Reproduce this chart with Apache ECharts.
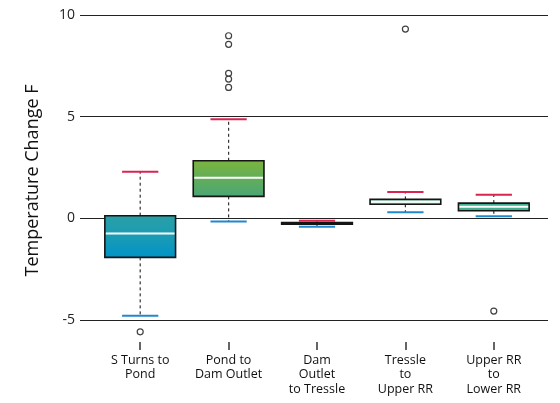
<!DOCTYPE html>
<html>
<head>
<meta charset="utf-8">
<script src="https://cdn.jsdelivr.net/npm/echarts@6/dist/echarts.min.js"></script>
<style>
  html, body { margin: 0; padding: 0; background: #fff; }
  #chart { width: 560px; height: 403px; }
</style>
</head>
<body>
<div id="chart"></div>
<script>
// Reach segments along the creek
const categories = [
  'S Turns to\nPond',
  'Pond to\nDam Outlet',
  'Dam\nOutlet\nto Tressle',
  'Tressle\nto\nUpper RR',
  'Upper RR\nto\nLower RR'
];

// Five-number summaries of temperature change (°F) per segment
const whiskerLow  = [-4.79, -0.15, -0.41, 0.30, 0.10];
const quartile1   = [-1.92,  1.08, -0.29, 0.69, 0.37];
const medians     = [-0.74,  2.00, -0.25, 0.82, 0.57];
const quartile3   = [ 0.13,  2.83, -0.21, 0.93, 0.75];
const whiskerHigh = [ 2.29,  4.87, -0.12, 1.29, 1.16];

// Outlying observations: [segment index, value]
const outliers = [
  [0, -5.58],
  [1, 8.98], [1, 8.56], [1, 7.13], [1, 6.85], [1, 6.44],
  [3, 9.31],
  [4, -4.56]
];

// Value axis ticks
const yTicks = [-5, 0, 5, 10];

// Box fills (top colour, middle colour, bottom colour)
const boxFills = [
  ['#2aa0a6', '#1a9bb4', '#0093c8'],
  ['#7bb43c', '#62ad5a', '#4aa676'],
  ['#111111', '#111111', '#111111'],
  ['#62c59c', '#c2ecd7', '#62c59c'],
  ['#3caa8b', '#44b292', '#3caa8b']
];

const boxData = categories.map((c, i) =>
  [i, whiskerLow[i], quartile1[i], medians[i], quartile3[i], whiskerHigh[i]]);

function renderBox(params, api) {
  const i = api.value(0);
  const pLow = api.coord([i, api.value(1)]);
  const pQ1 = api.coord([i, api.value(2)]);
  const pMed = api.coord([i, api.value(3)]);
  const pQ3 = api.coord([i, api.value(4)]);
  const pHigh = api.coord([i, api.value(5)]);
  const band = api.size([1, 0])[0];
  const bw = band * 0.8;
  const cw = band * 0.41;
  const x = pMed[0];
  const fill = boxFills[i];
  const children = [];
  const dash = { stroke: '#333', lineWidth: 1.2, lineDash: [3, 3] };
  children.push({ type: 'line', shape: { x1: x, y1: pQ3[1], x2: x, y2: pHigh[1] }, style: dash });
  children.push({ type: 'line', shape: { x1: x, y1: pQ1[1], x2: x, y2: pLow[1] }, style: dash });
  children.push({
    type: 'rect',
    shape: { x: x - bw / 2, y: pQ3[1], width: bw, height: Math.max(pQ1[1] - pQ3[1], 0.5) },
    style: {
      fill: new echarts.graphic.LinearGradient(0, 0, 0, 1, [
        { offset: 0, color: fill[0] },
        { offset: 0.5, color: fill[1] },
        { offset: 1, color: fill[2] }
      ]),
      stroke: '#151515',
      lineWidth: 1.6
    }
  });
  if (i !== 2) {
    children.push({
      type: 'line',
      shape: { x1: x - bw / 2 + 1, y1: pMed[1], x2: x + bw / 2 - 1, y2: pMed[1] },
      style: { stroke: '#ffffff', lineWidth: 2 }
    });
  }
  children.push({ type: 'line', shape: { x1: x - cw / 2, y1: pHigh[1], x2: x + cw / 2, y2: pHigh[1] },
    style: { stroke: '#d8244f', lineWidth: 2 } });
  children.push({ type: 'line', shape: { x1: x - cw / 2, y1: pLow[1], x2: x + cw / 2, y2: pLow[1] },
    style: { stroke: '#2088cf', lineWidth: 2 } });
  return { type: 'group', children };
}

const chart = echarts.init(document.getElementById('chart'), null, { renderer: 'canvas' });
const fontFamily = '"Open Sans", "Noto Sans", sans-serif';

chart.setOption({
  animation: false,
  backgroundColor: '#ffffff',
  grid: [
    { left: 80, right: 12, top: 15, bottom: 83 },
    { left: 96, right: 22, top: 15, bottom: 83 }
  ],
  xAxis: [
    { type: 'value', gridIndex: 0, min: 0, max: 1, show: false },
    {
      type: 'category', gridIndex: 1, data: categories, boundaryGap: true,
      offset: 22, position: 'bottom',
      axisLine: { show: true, onZero: false, lineStyle: { opacity: 0 } },
      axisTick: { show: true, alignWithLabel: true, length: 8, lineStyle: { color: '#333', width: 1.5 } },
      axisLabel: { interval: 0, margin: 11, fontSize: 12.5, lineHeight: 14.5, color: '#111', fontFamily },
      splitLine: { show: false }
    }
  ],
  yAxis: [
    {
      type: 'value', gridIndex: 0, min: yTicks[0], max: yTicks[yTicks.length - 1], interval: 5,
      name: 'Temperature Change F', nameLocation: 'middle', nameGap: 38,
      nameTextStyle: { fontSize: 18, color: '#111', fontFamily, padding: [0, 26, 0, 0] },
      axisLine: { show: false }, axisTick: { show: false },
      axisLabel: { fontSize: 14, color: '#222', margin: 5, fontFamily },
      splitLine: { show: true, lineStyle: { color: '#222', width: 1 } }
    },
    { type: 'value', gridIndex: 1, min: yTicks[0], max: yTicks[yTicks.length - 1], show: false }
  ],
  series: [
    {
      type: 'custom', xAxisIndex: 1, yAxisIndex: 1,
      renderItem: renderBox, data: boxData, clip: false,
      encode: { x: 0, y: [1, 2, 3, 4, 5] }
    },
    {
      type: 'scatter', xAxisIndex: 1, yAxisIndex: 1, data: outliers, clip: false,
      symbol: 'circle', symbolSize: 6,
      itemStyle: { color: '#ffffff', borderColor: '#111', borderWidth: 1.2 },
      z: 5
    }
  ]
});
</script>
</body>
</html>
